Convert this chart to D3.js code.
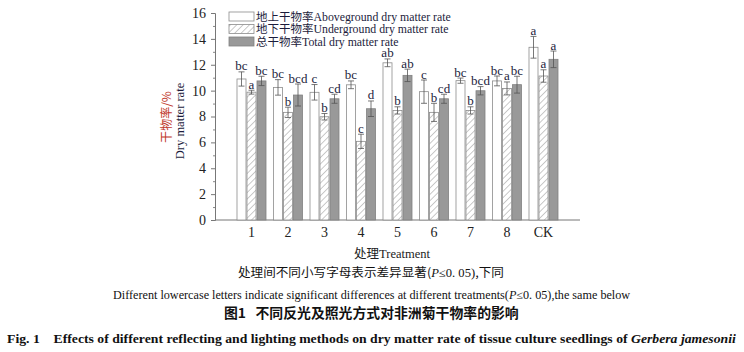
<!DOCTYPE html>
<html>
<head>
<meta charset="utf-8">
<script src="https://cdn.jsdelivr.net/npm/d3@7"></script>
<style>
  body { margin: 0; background: #fff; }
  svg { display: block; }
  text { white-space: pre; }
</style>
</head>
<body>
<div id="app"></div>
<script>
// treatments and series
const treatments = ['1', '2', '3', '4', '5', '6', '7', '8', 'CK']
const seriesZh = ['地上干物率', '地下干物率', '总干物率']
const seriesEn = ['Aboveground dry matter rate', 'Underground dry matter rate', 'Total dry matter rate']

const above = [10.9, 10.25, 9.87, 10.45, 12.15, 9.92, 10.77, 10.75, 13.35]
const aboveErr = [0.55, 0.6, 0.6, 0.3, 0.3, 0.9, 0.2, 0.38, 0.84]
const aboveSig = ['bc', 'bc', 'c', 'bc', 'ab', 'c', 'bc', 'bc', 'a']

const under = [9.88, 8.32, 7.98, 6.08, 8.47, 8.32, 8.47, 10.17, 11.13]
const underErr = [0.15, 0.4, 0.25, 0.55, 0.28, 0.7, 0.28, 0.5, 0.48]
const underSig = ['a', 'b', 'b', 'c', 'b', 'b', 'b', 'a', 'a']

const total = [10.75, 9.66, 9.37, 8.6, 11.18, 9.37, 9.99, 10.46, 12.42]
const totalErr = [0.36, 0.85, 0.35, 0.6, 0.48, 0.35, 0.32, 0.65, 0.64]
const totalSig = ['bc', 'bcd', 'cd', 'd', 'ab', 'cd', 'bcd', 'bc', 'a']

const yTicks = [0, 2, 4, 6, 8, 10, 12, 14, 16]

const series = [
  { vals: above, err: aboveErr, sig: aboveSig },
  { vals: under, err: underErr, sig: underSig },
  { vals: total, err: totalErr, sig: totalSig }
]

const W = 744, H = 352
const svg = d3.select('#app').append('svg').attr('width', W).attr('height', H)
const serif = '"Liberation Serif", "Times New Roman", serif'
const cjk = '"Noto Sans CJK SC", sans-serif'
const ink = '#1c1c3c'

let defs = svg.append('defs')
let pat = defs.append('pattern').attr('id', 'hatch')
  .attr('patternUnits', 'userSpaceOnUse').attr('width', 4.5).attr('height', 4.5)
  .attr('patternTransform', 'rotate(45)')
pat.append('rect').attr('width', 4.5).attr('height', 4.5).attr('fill', '#fff')
pat.append('line').attr('x1', 0).attr('y1', 0).attr('x2', 0).attr('y2', 4.5)
  .attr('stroke', '#8a8a8a').attr('stroke-width', 0.9)

const fills = ['#fff', 'url(#hatch)', '#999']
const strokes = ['#8c8c8c', '#8c8c8c', '#808080']

const x = d3.scalePoint().domain(treatments).range([215, 580]).padding(1)
const y = d3.scaleLinear().domain([0, 16]).range([220, 13])
const barW = 10

// axes
let yAxis = svg.append('g').attr('transform', 'translate(215,0)')
  .call(d3.axisLeft(y).tickValues(yTicks).tickSize(4).tickPadding(5))
yAxis.select('.domain').attr('stroke', '#777')
yAxis.selectAll('.tick line').attr('stroke', '#777')
yAxis.selectAll('text').attr('font-family', serif).attr('font-size', 14).attr('fill', '#222')
svg.append('g').attr('transform', 'translate(215,0)')
  .call(d3.axisLeft(y).tickValues(d3.range(1, 16, 2)).tickSize(2).tickFormat(''))
  .call(g => g.select('.domain').remove())
  .selectAll('.tick line').attr('stroke', '#888')

svg.append('line').attr('x1', 215).attr('x2', 580).attr('y1', y(0)).attr('y2', y(0))
  .attr('stroke', '#777')
svg.append('g').selectAll('text').data(treatments).enter().append('text')
  .attr('x', d => x(d)).attr('y', 237).attr('text-anchor', 'middle')
  .attr('font-family', serif).attr('font-size', 14).attr('fill', '#222')
  .text(d => d)

// bars
series.forEach((s, si) => {
  let g = svg.append('g')
  treatments.forEach((t, i) => {
    const cx = x(t) + (si - 1) * barW
    const v = s.vals[i], e = s.err[i]
    g.append('rect')
      .attr('x', cx - barW / 2 + 0.5).attr('y', y(v))
      .attr('width', barW - 1).attr('height', y(0) - y(v))
      .attr('fill', fills[si]).attr('stroke', strokes[si]).attr('stroke-width', 0.8)
    g.append('line').attr('x1', cx).attr('x2', cx).attr('y1', y(v + e)).attr('y2', y(v - e))
      .attr('stroke', '#555').attr('stroke-width', 0.8)
    ;[v + e, v - e].forEach(vv => g.append('line')
      .attr('x1', cx - 3).attr('x2', cx + 3).attr('y1', y(vv)).attr('y2', y(vv))
      .attr('stroke', '#555').attr('stroke-width', 0.8))
    g.append('text').attr('x', cx).attr('y', y(v + e) - 1.5).attr('text-anchor', 'middle')
      .attr('font-family', serif).attr('font-size', 13).attr('fill', ink)
      .text(s.sig[i])
  })
})

// legend
let lg = svg.append('g')
seriesZh.forEach((name, i) => {
  const yy = 16.5 + i * 12.5
  lg.append('rect').attr('x', 229).attr('y', yy - 4.5).attr('width', 25).attr('height', 9)
    .attr('fill', fills[i]).attr('stroke', strokes[i]).attr('stroke-width', 0.8)
  let t = lg.append('text').attr('x', 256).attr('y', yy + 4)
    .attr('font-size', 11.5).attr('fill', ink)
  t.append('tspan').attr('font-family', cjk).text(name)
  t.append('tspan').attr('font-family', serif).attr('font-size', 11.8).text(seriesEn[i])
})

// y label
svg.append('text').attr('transform', 'translate(171,117) rotate(-90)')
  .attr('text-anchor', 'middle').attr('font-size', 12)
  .attr('font-family', cjk).attr('fill', '#c0392b').text('干物率/%')
svg.append('text').attr('transform', 'translate(184,121) rotate(-90)')
  .attr('text-anchor', 'middle').attr('font-size', 12.5)
  .attr('font-family', serif).attr('fill', ink).text('Dry matter rate')

// x label
let xl = svg.append('text').attr('x', 392).attr('y', 258).attr('text-anchor', 'middle')
  .attr('font-size', 12.5).attr('fill', '#222')
xl.append('tspan').attr('font-family', cjk).text('处理')
xl.append('tspan').attr('font-family', serif).text('Treatment')

// captions, squeezed to the reference widths
function caption(x0, x1, yb, parts, size, weight) {
  let g = svg.append('g')
  let t = g.append('text').attr('x', 0).attr('y', 0)
    .attr('font-size', size).attr('font-weight', weight || 'normal').attr('fill', '#111')
  parts.forEach(p => {
    t.append('tspan').attr('font-family', p.f).attr('font-style', p.i ? 'italic' : 'normal').text(p.s)
  })
  const w = t.node().getComputedTextLength()
  g.attr('transform', `translate(${x0},${yb}) scale(${(x1 - x0) / w},1)`)
}

caption(238, 504, 277, [
  { f: cjk, s: '处理间不同小写字母表示差异显著(' },
  { f: serif, s: 'P', i: true },
  { f: serif, s: '≤0. 05)' },
  { f: cjk, s: ',下同' }
], 12)
caption(113, 631, 299, [
  { f: serif, s: 'Different lowercase letters indicate significant differences at different treatments(' },
  { f: serif, s: 'P', i: true },
  { f: serif, s: '≤0. 05),the same below' }
], 11.5)
caption(224, 519, 318, [{ f: cjk, s: '图1   不同反光及照光方式对非洲菊干物率的影响' }], 13.5, 'bold')
caption(7, 736, 343, [
  { f: serif, s: 'Fig. 1    Effects of different reflecting and lighting methods on dry matter rate of tissue culture seedlings of ' },
  { f: serif, s: 'Gerbera jamesonii', i: true }
], 13.5, 'bold')
</script>
</body>
</html>
